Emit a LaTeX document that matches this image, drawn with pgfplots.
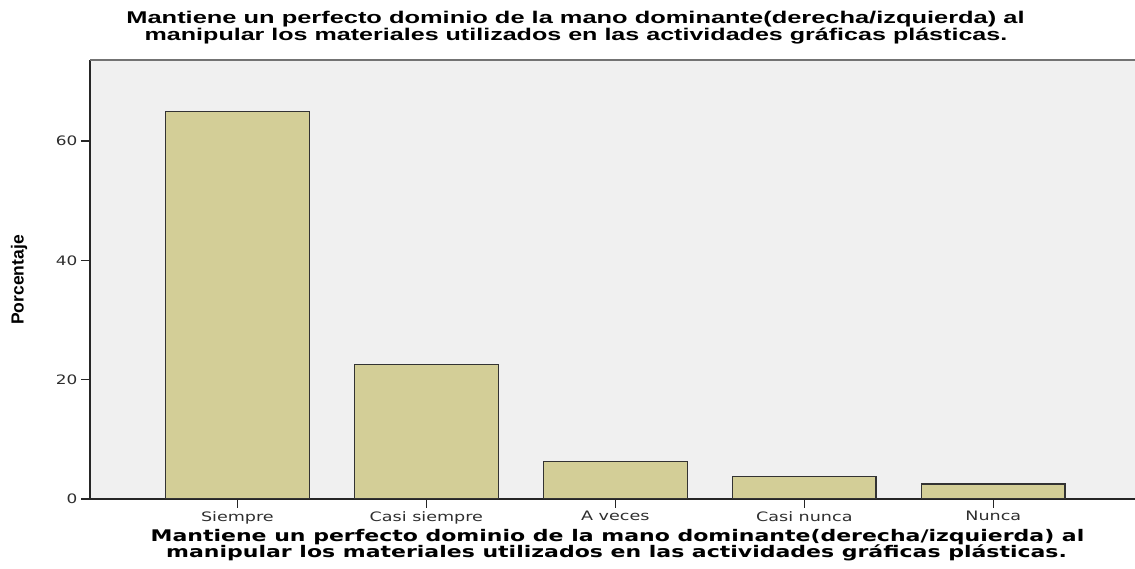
\documentclass[border=0pt]{standalone}
\usepackage{fontspec}
\setmainfont{Liberation Sans}
\newfontfamily\dejavu{DejaVu Sans}
\usepackage{pgfplots}
\pgfplotsset{compat=1.18}
\definecolor{bg}{RGB}{240,240,240}
\definecolor{barfill}{RGB}{211,206,151}
\begin{document}
\begin{tikzpicture}
\begin{axis}[
 at={(90bp,70bp)}, anchor=south west,
 scale only axis, width=1045bp, height=439bp,
 xmin=-0.78, xmax=4.75, ymin=0, ymax=73.6,
 axis x line*=bottom, axis y line*=left,
 axis line style={line width=1.3bp, black!85, -},
 axis background/.style={fill=bg},
 xtick={0,...,4},
 xticklabels={\scalebox{1.35}[1]{Siempre}, \scalebox{1.35}[1]{Casi siempre}, \scalebox{1.35}[1]{A veces}, \scalebox{1.35}[1]{Casi nunca}, \scalebox{1.35}[1]{Nunca}},
 ytick={0,20,40,60},
 yticklabel={\scalebox{1.3}[1]{\pgfmathprintnumber{\tick}}},
 tick align=outside,
 major tick length=9bp,
 tick style={line width=1.3bp, black!85},
 ticklabel style={font=\dejavu\fontsize{13bp}{15bp}\selectfont, text=black!82},
 /pgf/number format/assume math mode=true,
 ybar, bar width=0.76,
]
\addplot[fill=barfill, draw=black!80, line width=1.3bp] coordinates {(0,65) (1,22.5) (2,6.25) (3,3.75) (4,2.5)};
\draw[black!55, line width=1.5bp] (rel axis cs:0,1) -- (rel axis cs:1,1);
\end{axis}
\node[anchor=base, font=\bfseries\fontsize{17bp}{17bp}\selectfont] at (575.5bp,545bp) {\scalebox{1.495}[1]{Mantiene un perfecto dominio de la mano dominante(derecha/izquierda) al}};
\node[anchor=base, font=\bfseries\fontsize{17bp}{17bp}\selectfont] at (576bp,528bp) {\scalebox{1.475}[1]{manipular los materiales utilizados en las actividades gráficas plásticas.}};
\node[anchor=base, font=\dejavu\bfseries\fontsize{16bp}{16bp}\selectfont] at (617.5bp,28bp) {\scalebox{1.375}[1]{Mantiene un perfecto dominio de la mano dominante(derecha/izquierda) al}};
\node[anchor=base, font=\dejavu\bfseries\fontsize{16bp}{16bp}\selectfont] at (616.5bp,12bp) {\scalebox{1.375}[1]{manipular los materiales utilizados en las actividades gráficas plásticas.}};
\node[rotate=90, font=\bfseries\fontsize{17.5bp}{17.5bp}\selectfont] at (19bp,289bp) {Porcentaje};
\pgfresetboundingbox
\path[use as bounding box] (0,0) rectangle (1135bp,569bp);
\end{tikzpicture}
\end{document}
